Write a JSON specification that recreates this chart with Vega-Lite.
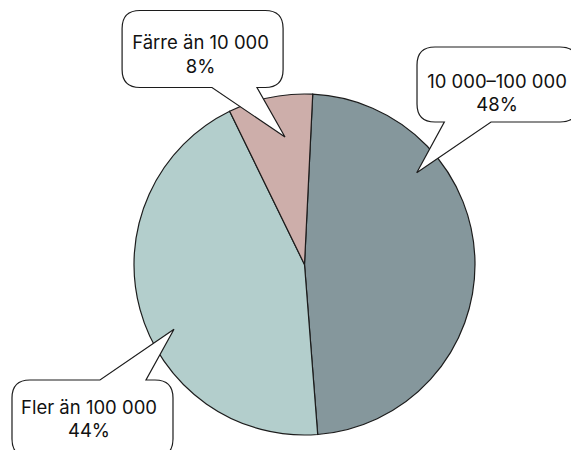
{
  "$schema": "https://vega.github.io/schema/vega-lite/v6.json",
  "width": 533,
  "height": 371,
  "autosize": {"type": "none"},
  "padding": {"left": 38, "top": 79, "right": 0, "bottom": 0},
  "background": "white",
  "config": {"view": {"stroke": null}},
  "data": {
    "values": [
      {"category": "10 000–100 000", "value": 48},
      {"category": "Fler än 100 000", "value": 44},
      {"category": "Färre än 10 000", "value": 8}
    ]
  },
  "transform": [
    {"calculate": "[datum.category, datum.value + '%']", "as": "label"}
  ],
  "layer": [
    {
      "mark": {"type": "arc", "outerRadius": 170.5, "stroke": "#1c1c1c", "strokeWidth": 1.2},
      "encoding": {
        "theta": {"field": "value", "type": "quantitative", "stack": true, "scale": {"range": [0.0482, 6.3314]}},
        "color": {
          "field": "category",
          "type": "nominal",
          "scale": {
            "domain": ["10 000–100 000", "Fler än 100 000", "Färre än 10 000"],
            "range": ["#85979C", "#B3CECC", "#CDAEAA"]
          },
          "legend": null
        },
        "order": {"field": "value", "sort": "descending"}
      }
    },
    {
      "transform": [{"filter": "datum.category === 'Färre än 10 000'"}],
      "encoding": {
        "x": {"datum": -0.5977, "type": "quantitative", "scale": {"domain": [-1.563, 1.563], "nice": false, "zero": false}, "axis": null},
        "y": {"datum": 1.2639, "type": "quantitative", "scale": {"domain": [-1.088, 1.088], "nice": false, "zero": false}, "axis": null}
      },
      "layer": [
        {
          "mark": {
            "type": "point",
            "shape": "M -62.5 -38.5 L 62.5 -38.5 Q 80.5 -38.5 80.5 -20.5 L 80.5 20.5 Q 80.5 38.5 62.5 38.5 L 54.4 38.5 L 82.4 88 L 9.4 38.5 L -62.5 38.5 Q -80.5 38.5 -80.5 20.5 L -80.5 -20.5 Q -80.5 -38.5 -62.5 -38.5 Z",
            "size": 4,
            "filled": true,
            "fill": "white",
            "stroke": "#1c1c1c",
            "strokeWidth": 1.2,
            "opacity": 1
          }
        },
        {
          "mark": {"type": "text", "font": "Inter", "fontSize": 18.5, "lineHeight": 23.5, "align": "center", "baseline": "middle", "dx": -2, "dy": -6, "color": "#111111"},
          "encoding": {"text": {"field": "label", "type": "nominal"}}
        }
      ]
    },
    {
      "transform": [{"filter": "datum.category === '10 000–100 000'"}],
      "encoding": {
        "x": {"datum": 1.132, "type": "quantitative", "scale": {"domain": [-1.563, 1.563], "nice": false, "zero": false}, "axis": null},
        "y": {"datum": 1.0557, "type": "quantitative", "scale": {"domain": [-1.088, 1.088], "nice": false, "zero": false}, "axis": null}
      },
      "layer": [
        {
          "mark": {
            "type": "point",
            "shape": "M -62.5 -37.5 L 62.5 -37.5 Q 80.5 -37.5 80.5 -19.5 L 80.5 19.5 Q 80.5 37.5 62.5 37.5 L -6.5 37.5 L -80.8 88.2 L -53.2 37.5 L -62.5 37.5 Q -80.5 37.5 -80.5 19.5 L -80.5 -19.5 Q -80.5 -37.5 -62.5 -37.5 Z",
            "size": 4,
            "filled": true,
            "fill": "white",
            "stroke": "#1c1c1c",
            "strokeWidth": 1.2,
            "opacity": 1
          }
        },
        {
          "mark": {"type": "text", "font": "Inter", "fontSize": 18.5, "lineHeight": 23.5, "align": "center", "baseline": "middle", "dx": -0.5, "dy": -3, "color": "#111111"},
          "encoding": {"text": {"field": "label", "type": "nominal"}}
        }
      ]
    },
    {
      "transform": [{"filter": "datum.category === 'Fler än 100 000'"}],
      "encoding": {
        "x": {"datum": -1.2434, "type": "quantitative", "scale": {"domain": [-1.563, 1.563], "nice": false, "zero": false}, "axis": null},
        "y": {"datum": -0.9032, "type": "quantitative", "scale": {"domain": [-1.088, 1.088], "nice": false, "zero": false}, "axis": null}
      },
      "layer": [
        {
          "mark": {
            "type": "point",
            "shape": "M -62.5 -38.5 L 7.5 -38.5 L 81.5 -89.2 L 53.5 -38.5 L 62.5 -38.5 Q 80.5 -38.5 80.5 -20.5 L 80.5 20.5 Q 80.5 38.5 62.5 38.5 L -62.5 38.5 Q -80.5 38.5 -80.5 20.5 L -80.5 -20.5 Q -80.5 -38.5 -62.5 -38.5 Z",
            "size": 4,
            "filled": true,
            "fill": "white",
            "stroke": "#1c1c1c",
            "strokeWidth": 1.2,
            "opacity": 1
          }
        },
        {
          "mark": {"type": "text", "font": "Inter", "fontSize": 18.5, "lineHeight": 23.5, "align": "center", "baseline": "middle", "dx": -3.5, "dy": -10.5, "color": "#111111"},
          "encoding": {"text": {"field": "label", "type": "nominal"}}
        }
      ]
    }
  ]
}
